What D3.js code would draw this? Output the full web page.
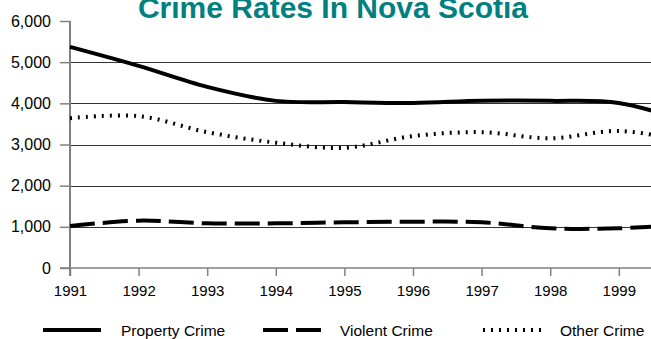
<!DOCTYPE html>
<html>
<head>
<meta charset="utf-8">
<script src="https://cdn.jsdelivr.net/npm/d3@7/dist/d3.min.js"></script>
<style>
  html, body { margin: 0; padding: 0; background: #fff; }
  svg { display: block; font-family: "Liberation Sans", Arial, sans-serif; }
</style>
</head>
<body>
<svg id="chart" width="651" height="339"></svg>
<script>
// Crime rates per 100,000 population, Nova Scotia
const years = [1991, 1992, 1993, 1994, 1995, 1996, 1997, 1998, 1999, 2000];
const propertyCrime = [5370, 4910, 4400, 4060, 4030, 4010, 4060, 4060, 4010, 3550];
const violentCrime  = [1020, 1150, 1085, 1085, 1110, 1125, 1110, 965, 965, 1060];
const otherCrime    = [3640, 3690, 3300, 3045, 2920, 3205, 3300, 3150, 3330, 3070];
const yTicks = [0, 1000, 2000, 3000, 4000, 5000, 6000];
const xTickYears = [1991, 1992, 1993, 1994, 1995, 1996, 1997, 1998, 1999];
const seriesNames = ["Property Crime", "Violent Crime", "Other Crime"];
const chartTitle = "Crime Rates In Nova Scotia";

const svg = d3.select("#chart");
const W = 651;

const x = d3.scaleLinear().domain([1991, 2000]).range([70, 70 + 9 * 68.6]);
const y = d3.scaleLinear().domain([0, 6000]).range([268, 21]);

// title
svg.append("text")
  .attr("x", 333).attr("y", 18)
  .attr("text-anchor", "middle")
  .attr("fill", "#008080")
  .attr("font-weight", "bold")
  .attr("font-size", 30)
  .text(chartTitle);

// horizontal gridlines (none at the top value)
svg.append("g")
  .selectAll("line")
  .data(yTicks.filter(d => d > 0 && d < 6000))
  .join("line")
  .attr("x1", 70).attr("x2", W)
  .attr("y1", d => Math.round(y(d)) + 0.5)
  .attr("y2", d => Math.round(y(d)) + 0.5)
  .attr("stroke", "#333")
  .attr("stroke-width", 1);

// y axis
const yAxis = d3.axisLeft(y)
  .tickValues(yTicks)
  .tickSize(10)
  .tickPadding(9)
  .tickFormat(d3.format(","));
const gy = svg.append("g").attr("transform", "translate(70,0)").call(yAxis);
gy.select(".domain").attr("stroke", "#808080").attr("stroke-width", 2)
  .attr("d", `M0,${y(6000)}V${y(0) + 8}`);
gy.selectAll(".tick line").attr("stroke", "#808080").attr("stroke-width", 1.5);
gy.selectAll(".tick text")
  .attr("font-size", 16)
  .attr("font-family", "Liberation Sans, Arial, sans-serif")
  .attr("fill", "#000");

// x axis
const xAxis = d3.axisBottom(x)
  .tickValues(xTickYears)
  .tickSize(8)
  .tickPadding(9)
  .tickFormat(d3.format("d"));
const gx = svg.append("g").attr("transform", `translate(0,${y(0)})`).call(xAxis);
gx.select(".domain").attr("stroke", "#808080").attr("stroke-width", 1.5)
  .attr("d", `M60,0H${W}`);
gx.selectAll(".tick line").attr("stroke", "#808080").attr("stroke-width", 1.5);
gx.selectAll(".tick text")
  .attr("font-size", 15)
  .attr("font-family", "Liberation Sans, Arial, sans-serif")
  .attr("fill", "#000");

// series lines
const styles = [
  { values: propertyCrime, dash: null },
  { values: violentCrime, dash: "25,8" },
  { values: otherCrime, dash: "2,6" }
];

const line = d3.line()
  .x(d => x(d[0]))
  .y(d => y(d[1]))
  .curve(d3.curveCatmullRom.alpha(0.5));

svg.append("g")
  .selectAll("path")
  .data(styles)
  .join("path")
  .attr("d", s => line(years.map((yr, i) => [yr, s.values[i]])))
  .attr("fill", "none")
  .attr("stroke", "#000")
  .attr("stroke-width", 4)
  .attr("stroke-dasharray", s => s.dash);

// legend
const legendX = [43, 263, 483];
const legend = svg.append("g")
  .selectAll("g")
  .data(seriesNames)
  .join("g")
  .attr("transform", (d, i) => `translate(${legendX[i]},330)`);

legend.append("line")
  .attr("x1", 0).attr("x2", (d, i) => i === 2 ? 60 : 58)
  .attr("y1", 0).attr("y2", 0)
  .attr("stroke", "#000")
  .attr("stroke-width", 4)
  .attr("stroke-dasharray", (d, i) => styles[i].dash);

legend.append("text")
  .attr("x", (d, i) => [78, 77, 77][i])
  .attr("y", 6)
  .attr("font-size", 15.5)
  .attr("fill", "#000")
  .text(d => d);
</script>
</body>
</html>
